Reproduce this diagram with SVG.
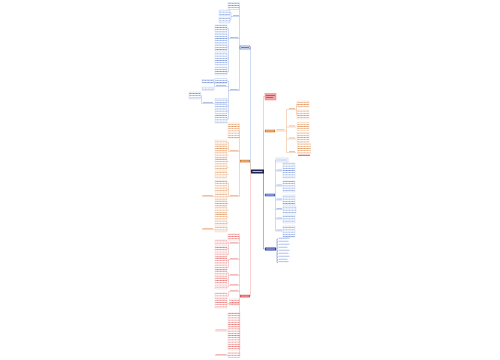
<svg xmlns="http://www.w3.org/2000/svg" width="500" height="360" viewBox="0 0 500 360">
<defs>
<pattern id="tB" width="3" height="2.2" patternUnits="userSpaceOnUse"><rect x="0.3" y="0.7" width="2.4" height="0.8" fill="#7f9bd9"/></pattern>
<pattern id="tO" width="3" height="2.2" patternUnits="userSpaceOnUse"><rect x="0.3" y="0.7" width="2.4" height="0.8" fill="#e39a63"/></pattern>
<pattern id="tR" width="3" height="2.2" patternUnits="userSpaceOnUse"><rect x="0.3" y="0.7" width="2.4" height="0.8" fill="#e87b7b"/></pattern>
</defs>
<style>
.cb{fill:none;stroke:#9fb6e6;stroke-width:.5}
.co{fill:none;stroke:#eab088;stroke-width:.5}
.cr{fill:none;stroke:#f0a4a4;stroke-width:.5}
.cd{fill:none;stroke:#5a6cc0;stroke-width:.5}
.kb{fill:url(#tB);stroke:#bccdee;stroke-width:.4}
.ko{fill:url(#tO);stroke:#f2cdb0;stroke-width:.4}
.kr{fill:url(#tR);stroke:#f4c0c0;stroke-width:.4}
.lb{fill:#9db2e4}
.lo{fill:#eeb28a}
.lr{fill:#f2a8a8}
</style>
<rect width="500" height="360" fill="#ffffff"/>

<g id="connectors">
<path class="cb" d="M251 171.5H250.5V47.5H250"/>
<path class="co" d="M251 171.5H250.5V161H250"/>
<path class="cr" d="M251 171.5H250.5V296H250"/>
<path class="cr" d="M264 171.5H263.5V96.5H265"/>
<path class="co" d="M264 171.5H263.5V131H265"/>
<path class="cb" d="M264 171.5H263.5V195H265"/>
<path class="cd" d="M264 171.5H263.5V249H265"/>
<!-- left blue -->
<path class="cb" d="M240 47.5H239.5M239.5 6V90.5M239.5 16.5H232M239.5 38.5H229M239.5 90.5H229"/>
<path class="cb" d="M232 16.5H231V12.5H230M231 16.5V20H230"/>
<path class="cb" d="M229 38.5H228.5V28.5H227M228.5 38V72H227M228.5 38H227M228.5 47H227M228.5 58H227"/>
<path class="cb" d="M229 90.5H228.5V81H227M228.5 86.5H227.5M228.5 90V119H227M228.5 101H227M228.5 106H227M228.5 111H227"/>
<path class="cb" d="M215 86.5H214.5V81.5H214M214.5 88.5H214M202 103.5H201.5V95.5H201"/>
<!-- left orange -->
<path class="co" d="M240 161H239.5M239.5 130V196.5M239.5 151.5H229M239.5 196.5H229"/>
<path class="co" d="M229 151.5H228.5V142.5H227M228.5 148.5H227M228.5 155H227M228.5 161.5H227M228.5 167.5H227M228.5 174.5H227"/>
<path class="co" d="M229 196.5H228.5V183H227M228.5 189.5H227M228.5 196.5H227M228.5 203.5H227M228.5 210H227M228.5 217H227M228.5 223H227M228.5 229H227"/>
<path class="co" d="M215 196.5H213.5M215 229.5H213.5"/>
<!-- left red -->
<path class="cr" d="M240 296H239.5M239.5 237V355.5M239.5 243.5H229M239.5 259.5H229M239.5 275.5H229M239.5 285.5H229M239.5 291.5H229M239.5 303.5H229.5M239.5 331H240M239.5 355.5H240"/>
<path class="cr" d="M229 243.5H228.5V242.5H227M228.5 243.5V254.5H227M228.5 248.5H227"/>
<path class="cr" d="M229 259.5H228.5V261H227M228.5 259.5V267.5H227"/>
<path class="cr" d="M229 275.5H228.5V273H227M228.5 275.5V287H227M228.5 280H227"/>
<path class="cr" d="M229 291.5H228.5V296H227"/>
<path class="cr" d="M229.5 303.5H228.5V304H227"/>
<path class="cr" d="M228 331H227M228 355.5H227"/>
<!-- right orange -->
<path class="co" d="M275 131H286.5M286.5 109.5V152.5M286.5 109.5H296M286.5 127H296M286.5 139H296M286.5 152.5H296"/>
<path class="co" d="M296 109.5H296.5V104H297M296.5 109.5V114.5H297"/>
<!-- right blue -->
<path class="cb" d="M275 195H275.5M275.5 160V231M275.5 160H276M275.5 171H282.5M275.5 186H282.5M275.5 200H282.5M275.5 209.5H282.5M275.5 219H282.5M275.5 231H282.5"/>
<!-- right dark blue -->
<path class="cd" d="M276 249H277M277 239V262.5M277 239H278M277 242H278M277 245H278M277 248H278M277 251H278M277 254H278M277 257H278M277 260H278M277 262.5H278"/>
</g>

<g id="center"><rect x="251" y="169.5" width="13" height="4" fill="#1d2352"/><rect x="252.5" y="171" width="10" height="0.9" fill="#c8cde8"/></g>

<g id="main-left-blue"><rect x="240" y="46" width="10" height="3" fill="#ffffff" stroke="#3c5cb8" stroke-width=".6"/><rect x="241" y="47.1" width="8" height="0.8" fill="#3c5cb8"/></g>
<g id="main-left-orange"><rect x="240" y="159.8" width="10" height="2.6" fill="#d27a2f"/><rect x="241" y="160.7" width="8" height="0.7" fill="#fbe2cc"/></g>
<g id="main-left-red"><rect x="240" y="294.8" width="10" height="2.6" fill="#d94c4c"/><rect x="241" y="295.7" width="8" height="0.7" fill="#fbd8d8"/></g>
<g id="main-right-red"><rect x="265" y="93.5" width="11" height="6.5" fill="#f3a5a5" stroke="#e26a6a" stroke-width=".4"/><rect x="266" y="95" width="9" height="0.8" fill="#c83c3c"/><rect x="266" y="97.2" width="7" height="0.8" fill="#c83c3c"/></g>
<g id="main-right-orange"><rect x="265" y="129.7" width="10" height="2.6" fill="#d27a2f"/><rect x="266" y="130.6" width="8" height="0.7" fill="#fbe2cc"/></g>
<g id="main-right-blue"><rect x="265" y="193.7" width="10" height="2.6" fill="#3d5db8"/><rect x="266" y="194.6" width="8" height="0.7" fill="#dbe3f7"/></g>
<g id="main-right-darkblue"><rect x="265" y="247.5" width="11" height="3" fill="#2a3aa3"/><rect x="266" y="248.6" width="9" height="0.8" fill="#d6dbf3"/></g>

<g id="left-blue">
<rect class="kb" x="228" y="2.5" width="11.5" height="7"/>
<rect class="lb" x="233" y="15" width="6" height="0.8"/>
<rect class="kb" x="219" y="10" width="11" height="5.5"/>
<rect class="kb" x="219" y="17" width="11" height="6"/>
<rect class="lb" x="230" y="37" width="8.5" height="0.8"/>
<rect class="kb" x="215" y="25" width="12" height="7"/>
<rect class="kb" x="215" y="33" width="12" height="10"/>
<rect class="kb" x="215" y="44" width="12" height="7"/>
<rect class="kb" x="215" y="52" width="12" height="13"/>
<rect class="kb" x="215" y="67" width="12" height="8"/>
<rect class="lb" x="230" y="89" width="8.5" height="0.8"/>
<rect class="kb" x="215" y="78.5" width="12" height="5"/>
<rect class="lb" x="216" y="85" width="10" height="0.8"/>
<path class="cb" d="M215 86.5H227.5"/>
<rect class="kb" x="202" y="79.5" width="12" height="3.5"/>
<rect class="kb" x="202" y="87" width="12" height="3.5"/>
<rect class="kb" x="189" y="92" width="11.5" height="7"/>
<rect class="lb" x="203" y="102" width="10" height="0.8"/>
<path class="cb" d="M202 103.5H214.5"/>
<rect class="kb" x="215" y="98.5" width="12" height="5"/>
<rect class="kb" x="215" y="104.5" width="12" height="4"/>
<rect class="kb" x="215" y="109.5" width="12" height="4"/>
<rect class="kb" x="215" y="115" width="12" height="8"/>
</g>

<g id="left-orange">
<rect class="ko" x="228" y="123" width="11.5" height="15"/>
<rect class="lo" x="230" y="150" width="8.5" height="0.8"/>
<rect class="ko" x="215" y="140" width="12" height="5"/>
<rect class="ko" x="215" y="146" width="12" height="5"/>
<rect class="ko" x="215" y="152" width="12" height="6"/>
<rect class="ko" x="215" y="159" width="12" height="5"/>
<rect class="ko" x="215" y="165" width="12" height="5"/>
<rect class="ko" x="215" y="171" width="12" height="7"/>
<rect class="lo" x="230" y="195" width="8.5" height="0.8"/>
<rect class="ko" x="215" y="180" width="12" height="6"/>
<rect class="ko" x="215" y="187" width="12" height="5"/>
<rect class="ko" x="215" y="193" width="12" height="7"/>
<rect class="ko" x="215" y="201" width="12" height="5"/>
<rect class="ko" x="215" y="207" width="12" height="6"/>
<rect class="ko" x="215" y="214" width="12" height="6"/>
<rect class="ko" x="215" y="221" width="12" height="4"/>
<rect class="ko" x="215" y="226" width="12" height="6"/>
<rect class="lo" x="202.5" y="195" width="10.5" height="0.8"/>
<path class="co" d="M202 196.5H213.5"/>
<rect class="lo" x="202.5" y="228" width="10.5" height="0.8"/>
<path class="co" d="M202 229.5H213.5"/>
</g>

<g id="left-red">
<rect class="kr" x="228" y="234" width="11.5" height="6"/>
<rect class="lr" x="230" y="242" width="8.5" height="0.8"/>
<rect class="kr" x="215" y="240" width="12" height="5"/>
<rect class="kr" x="215" y="246" width="12" height="5"/>
<rect class="kr" x="215" y="252" width="12" height="5"/>
<rect class="lr" x="230" y="258" width="8.5" height="0.8"/>
<rect class="kr" x="215" y="258" width="12" height="6"/>
<rect class="kr" x="215" y="265" width="12" height="5"/>
<rect class="lr" x="230" y="274" width="8.5" height="0.8"/>
<rect class="kr" x="215" y="271" width="12" height="6"/>
<rect class="kr" x="215" y="278" width="12" height="6"/>
<rect class="kr" x="215" y="285" width="12" height="4"/>
<rect class="lr" x="230" y="284" width="8.5" height="0.8"/>
<rect class="lr" x="230" y="290" width="8.5" height="0.8"/>
<rect class="kr" x="215" y="293" width="12" height="6"/>
<rect class="kr" x="229.5" y="299" width="10" height="6"/>
<rect class="kr" x="215" y="300" width="12" height="8"/>
<rect class="kr" x="228" y="313" width="12" height="14"/>
<rect class="kr" x="228" y="328" width="12" height="22"/>
<rect class="lr" x="215.5" y="329.5" width="11" height="0.8"/>
<path class="cr" d="M215 331H227"/>
<rect class="kr" x="228" y="352.5" width="12" height="5"/>
<rect class="lr" x="215.5" y="354" width="11" height="0.8"/>
<path class="cr" d="M215 355.5H227"/>
</g>

<g id="right-orange">
<rect class="lo" x="276.5" y="129.4" width="8" height="0.8"/>
<rect class="lo" x="289" y="108" width="6" height="0.8"/>
<rect class="lo" x="289" y="125.5" width="6" height="0.8"/>
<rect class="lo" x="289" y="137.5" width="6" height="0.8"/>
<rect class="lo" x="289" y="151" width="6" height="0.8"/>
<rect class="ko" x="297" y="101" width="12" height="6"/>
<rect class="ko" x="297" y="110" width="12" height="9"/>
<rect class="ko" x="297" y="122.5" width="12" height="8"/>
<rect class="ko" x="297" y="132.5" width="12" height="10"/>
<rect class="ko" x="297.5" y="143.5" width="13" height="10"/>
<rect x="298" y="154.8" width="12" height="0.9" fill="#d84040"/>
</g>

<g id="right-blue">
<rect x="276" y="158" width="12" height="4" fill="#ffffff" stroke="#9cb4e6" stroke-width=".4"/>
<rect class="lb" x="277" y="159.6" width="10" height="0.8"/>
<rect class="lb" x="276.5" y="169.6" width="5.5" height="0.8"/>
<rect class="lb" x="276.5" y="184.6" width="5.5" height="0.8"/>
<rect class="lb" x="276.5" y="198.6" width="5.5" height="0.8"/>
<rect class="lb" x="276.5" y="208.1" width="5.5" height="0.8"/>
<rect class="lb" x="276.5" y="217.6" width="5.5" height="0.8"/>
<rect class="lb" x="276.5" y="229.6" width="5.5" height="0.8"/>
<rect class="kb" x="283" y="163" width="12" height="15"/>
<rect class="kb" x="283" y="181" width="12" height="11"/>
<rect class="kb" x="283" y="195" width="12" height="10"/>
<rect class="kb" x="283" y="206" width="13" height="7"/>
<rect class="kb" x="283" y="215" width="12" height="8"/>
<rect class="kb" x="283" y="226" width="12" height="11"/>
</g>

<g id="right-darkblue">
<rect class="lb" x="278.5" y="237.8" width="11" height="0.8"/>
<rect class="lb" x="278.5" y="240.8" width="10" height="0.8"/>
<rect class="lb" x="278.5" y="243.8" width="11" height="0.8"/>
<rect class="lb" x="278.5" y="246.8" width="9" height="0.8"/>
<rect class="lb" x="278.5" y="249.8" width="11" height="0.8"/>
<rect class="lb" x="278.5" y="252.8" width="10" height="0.8"/>
<rect class="lb" x="278.5" y="255.8" width="11" height="0.8"/>
<rect class="lb" x="278.5" y="258.8" width="9" height="0.8"/>
<rect class="lb" x="278.5" y="261.3" width="10" height="0.8"/>
</g>
</svg>
